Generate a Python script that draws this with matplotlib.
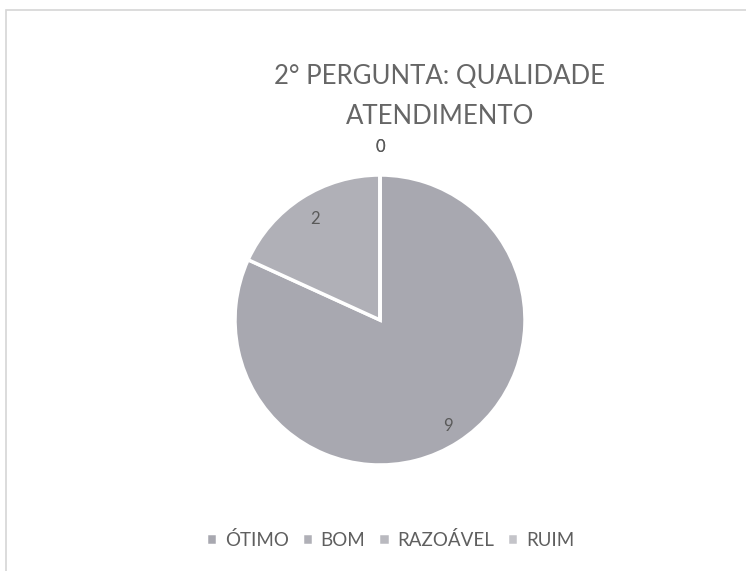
import numpy as np
import matplotlib.pyplot as plt
from matplotlib.patches import Rectangle

categories = ["ÓTIMO", "BOM", "RAZOÁVEL", "RUIM"]
values = [9, 2, 0, 0]
colors = ["#a8a8b0", "#b0b0b7", "#b9b9bf", "#c4c4c9"]
label_dist = [0.87, 0.83, 1.19, 1.19]

plt.rcParams["font.family"] = ["Lato", "DejaVu Sans"]

fig = plt.figure(figsize=(7.46, 5.71), dpi=100)
# chart frame: only top and left edges are inside the scan
fig.patches.append(Rectangle((0.008, -0.05), 1.1, 1.032, transform=fig.transFigure,
                             fill=False, edgecolor="#d6d6d6", lw=1.2))

ax = fig.add_axes([380 / 746 - 0.195, 1 - 465 / 571, 0.39, 290 / 571])
wedges, _ = ax.pie(values, colors=colors, startangle=90, counterclock=False,
                   wedgeprops=dict(edgecolor="white", linewidth=2.5))
ax.set_xlim(-1, 1)
ax.set_ylim(-1, 1)
ax.set_aspect("equal")

# data labels at each wedge's mid angle
for w, v, d in zip(wedges, values, label_dist):
    mid = np.deg2rad((w.theta1 + w.theta2) / 2)
    ax.text(d * np.cos(mid), d * np.sin(mid), str(v), ha="center", va="center",
            fontsize=12, color="#5a5a5a")

fig.text(440 / 746, 1 - 76 / 571, "2° PERGUNTA: QUALIDADE", ha="center", va="center",
         fontsize=18.5, color="#666666")
fig.text(440 / 746, 1 - 116 / 571, "ATENDIMENTO", ha="center", va="center",
         fontsize=18.5, color="#666666")

fig.legend(wedges, categories, loc="center", bbox_to_anchor=(390 / 746, 1 - 540 / 571),
           ncol=4, frameon=False, fontsize=13.5, handlelength=0.6, handleheight=0.6,
           handletextpad=0.4, columnspacing=0.7, labelcolor="#5f5f5f")

fig.savefig("out.png", dpi=100)
